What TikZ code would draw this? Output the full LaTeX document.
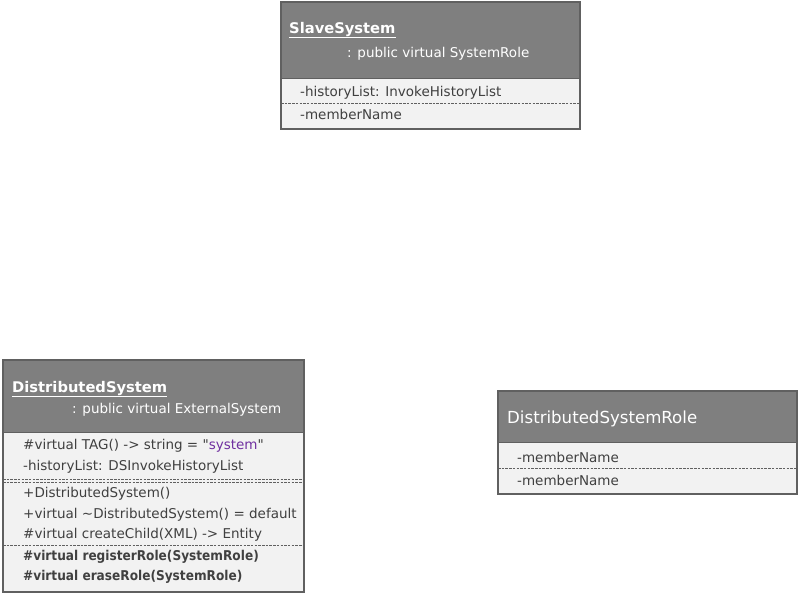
\documentclass[tikz,border=0pt]{standalone}
\usepackage{fontspec}
\setmainfont{DejaVu Sans}
\newfontfamily\dv{DejaVu Sans}
\definecolor{hdr}{HTML}{7F7F7F}
\definecolor{bdy}{HTML}{F2F2F2}
\definecolor{brd}{HTML}{606060}
\definecolor{txt}{HTML}{404040}
\definecolor{purp}{HTML}{7030A0}
\tikzset{
  hdrbox/.style={fill=hdr},
  bdybox/.style={fill=bdy},
  outline/.style={draw=brd, line width=1.6pt},
  sepline/.style={draw=brd, line width=0.8pt, dash pattern=on 2.5pt off 1.2pt},
  hline/.style={draw=brd, line width=0.8pt},
  ttl/.style={anchor=base west, inner sep=0pt, text=white, font=\dv\fontsize{14.7}{16}\selectfont\bfseries},
  sub/.style={anchor=base west, inner sep=0pt, text=white, font=\dv\fontsize{13.5}{16}\selectfont},
  mem/.style={anchor=base west, inner sep=0pt, text=txt, font=\dv\fontsize{13.5}{16}\selectfont},
  memb/.style={anchor=base west, inner sep=0pt, text=txt, font=\dv\fontsize{13.5}{16}\selectfont\bfseries},
}
\begin{document}
\begin{tikzpicture}[x=1pt,y=-1pt]
\useasboundingbox (0,0) rectangle (799,595);
% SlaveSystem
\fill[hdrbox] (281,2) rectangle (580,78);
\fill[bdybox] (281,78) rectangle (580,129);
\draw[hline] (281,78) -- (580,78);
\draw[sepline] (281,103.5) -- (580,103.5);
\draw[outline] (281,2) rectangle (580,129);
\node[ttl] (s1) at (289,33) {\underline{SlaveSystem}};
\node[sub] (s2) at (347,57) {: public virtual SystemRole};
\node[mem] (s3) at (300,96) {-historyList: InvokeHistoryList};
\node[mem] (s4) at (300,119) {-memberName};
% DistributedSystem
\fill[hdrbox] (3,360) rectangle (304,432);
\fill[bdybox] (3,432) rectangle (304,592);
\draw[hline] (3,432) -- (304,432);
\draw[sepline] (3,479) -- (304,479);
\draw[sepline] (3,482) -- (304,482);
\draw[sepline] (3,545.5) -- (304,545.5);
\draw[outline] (3,360) rectangle (304,592);
\node[ttl] (d1) at (12,392) {\underline{DistributedSystem}};
\node[sub] (d2) at (72,413) {: public virtual ExternalSystem};
\node[mem] (d3) at (23,449) {\#virtual TAG() -> string = "\textcolor{purp}{system}"};
\node[mem] (d4) at (23,470) {-historyList: DSInvokeHistoryList};
\node[mem] (d5) at (23,497.5) {+DistributedSystem()};
\node[mem] (d6) at (23,518) {+virtual \textasciitilde DistributedSystem() = default};
\node[mem] (d7) at (23,538) {\#virtual createChild(XML) -> Entity};
\node[memb] (d8) at (23,560) {\scalebox{0.9}[1]{\#virtual registerRole(SystemRole)}};
\node[memb] (d9) at (23,580) {\scalebox{0.9}[1]{\#virtual eraseRole(SystemRole)}};
% DistributedSystemRole
\fill[hdrbox] (498,391) rectangle (797,442);
\fill[bdybox] (498,442) rectangle (797,494);
\draw[hline] (498,442) -- (797,442);
\draw[sepline] (498,468) -- (797,468);
\draw[outline] (498,391) rectangle (797,494);
\node[anchor=base west, inner sep=0pt, text=white, font=\dv\fontsize{16.6}{18}\selectfont] (r1) at (507,423) {DistributedSystemRole};
\node[mem] (r2) at (517,462) {-memberName};
\node[mem] (r3) at (517,485) {-memberName};
\end{tikzpicture}
\end{document}
